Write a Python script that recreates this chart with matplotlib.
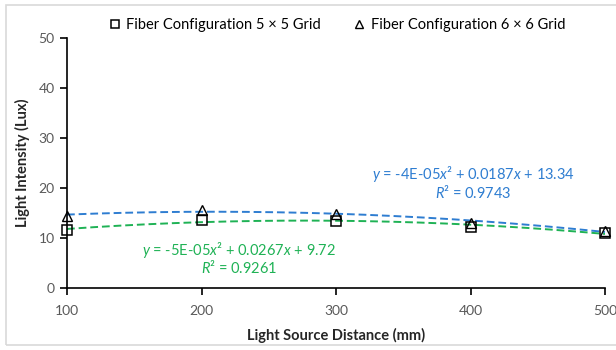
import numpy as np
import matplotlib.pyplot as plt
from matplotlib.patches import Rectangle

distance = [100, 200, 300, 400, 500]
grid5 = [11.6, 13.6, 13.4, 12.3, 11.0]
grid6 = [14.5, 15.6, 14.9, 13.1, 11.4]

BLUE = '#2E7DD1'
GREEN = '#1FB255'
GRAY = '#595959'

plt.rcParams['font.family'] = ['Lato', 'DejaVu Sans']
plt.rcParams['mathtext.fontset'] = 'custom'
plt.rcParams['mathtext.rm'] = 'Lato'
plt.rcParams['mathtext.it'] = 'Lato:italic'

fig = plt.figure(figsize=(6.16, 3.5), dpi=100)
ax = fig.add_axes([67 / 616, 1 - 288 / 350, (605 - 67) / 616, (288 - 38) / 350])

# chart border (cropped screenshot frame)
fig.patches.append(Rectangle((6 / 616, 5 / 350), 1.2, 340 / 350, transform=fig.transFigure,
                             fill=False, edgecolor='#d9d9d9', linewidth=1.2))

xs = np.linspace(100, 500, 200)
for ys, col in [(grid6, BLUE), (grid5, GREEN)]:
    c = np.polyfit(distance, ys, 2)
    ax.plot(xs, np.polyval(c, xs), linestyle=(0, (4, 2)), color=col, linewidth=1.4, zorder=2)

ax.plot(distance, grid5, linestyle='none', marker='s', markersize=7, markerfacecolor='none',
        markeredgecolor='black', markeredgewidth=1.1, zorder=3, clip_on=False,
        label='Fiber Configuration 5 × 5 Grid')
ax.plot(distance, grid6, linestyle='none', marker='^', markersize=7, markerfacecolor='none',
        markeredgecolor='black', markeredgewidth=1.0, zorder=3, clip_on=False,
        label='Fiber Configuration 6 × 6 Grid')

ax.set_xlim(100, 500)
ax.set_ylim(0, 50)
ax.set_xticks(distance)
ax.set_yticks(range(0, 51, 10))
ax.spines['top'].set_visible(False)
ax.spines['right'].set_visible(False)
for s in ['left', 'bottom']:
    ax.spines[s].set_linewidth(1.2)
ax.tick_params(direction='out', length=5, width=1.2, labelsize=10, labelcolor=GRAY, pad=4)
ax.tick_params(axis='x', pad=7)

ax.set_xlabel('Light Source Distance (mm)', fontsize=10.5, fontweight='bold', color='#262626', labelpad=8)
ax.set_ylabel('Light Intensity (Lux)', fontsize=10.5, fontweight='bold', color='#262626', labelpad=6)

ax.text(402, 22.8, r'$y$ = -4E-05$x$² + 0.0187$x$ + 13.34', color=BLUE, fontsize=10.5, ha='center', va='center')
ax.text(402, 19.2, r'$R$² = 0.9743', color=BLUE, fontsize=10.5, ha='center', va='center')
ax.text(228, 7.7, r'$y$ = -5E-05$x$² + 0.0267$x$ + 9.72', color=GREEN, fontsize=10.5, ha='center', va='center')
ax.text(228, 4.1, r'$R$² = 0.9261', color=GREEN, fontsize=10.5, ha='center', va='center')

fig.legend(loc='center', bbox_to_anchor=(337 / 616, 1 - 25 / 350), ncol=2, frameon=False,
           fontsize=10.5, handlelength=0.8, handletextpad=0.4, columnspacing=2.2, markerscale=0.9)

fig.savefig('out.png', dpi=100)
